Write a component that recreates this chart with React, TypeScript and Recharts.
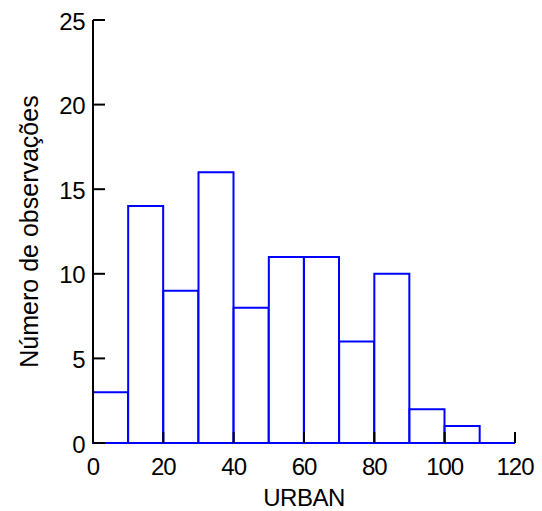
import React from 'react';
import { ComposedChart, Bar, XAxis, YAxis, Label } from 'recharts';

const binCenters = [5, 15, 25, 35, 45, 55, 65, 75, 85, 95, 105, 115];
const counts = [3, 14, 9, 16, 8, 11, 11, 6, 10, 2, 1, 0];
const xTicks = [0, 20, 40, 60, 80, 100, 120];
const yTicks = [0, 5, 10, 15, 20, 25];

const data = binCenters.map((x, i) => ({ x, n: counts[i] }));

const FONT = 'Arial, "Liberation Sans", sans-serif';
const FS = 24;

const XTick = (props: any) => {
  const { x, y, payload } = props;
  return (
    <g>
      <line x1={x} y1={y} x2={x} y2={y - 11} stroke="#000" strokeWidth={2} />
      <text x={x} y={y + 23} textAnchor="middle" dominantBaseline="central" fontFamily={FONT} fontSize={FS} letterSpacing={-1} fill="#000">
        {payload.value}
      </text>
    </g>
  );
};

const YTick = (props: any) => {
  const { x, y, payload } = props;
  return (
    <g>
      <line x1={x} y1={y} x2={x + 12} y2={y} stroke="#000" strokeWidth={2} />
      <text x={x - 8} y={y + 1} textAnchor="end" dominantBaseline="central" fontFamily={FONT} fontSize={FS} letterSpacing={-0.5} fill="#000">
        {payload.value}
      </text>
    </g>
  );
};

export default function App() {
  return (
    <div style={{ position: 'absolute', left: 0, top: 0, width: 542, height: 511, background: '#fff' }}>
      <ComposedChart width={542} height={511} data={data} margin={{ top: 20, right: 27, left: 0, bottom: 0 }} barCategoryGap={0} barGap={0}>
        <XAxis
          dataKey="x"
          type="number"
          domain={[0, 120]}
          ticks={xTicks}
          height={68}
          tickSize={0}
          tickMargin={0}
          tickLine={false}
          axisLine={{ stroke: '#0000FF', strokeWidth: 2 }}
          tick={<XTick />}
          interval={0}
        >
          <Label
            content={(p: any) => {
              const vb = p.viewBox;
              return (
                <text x={vb.x + vb.width / 2} y={vb.y + 54} textAnchor="middle" dominantBaseline="central" fontFamily={FONT} fontSize={FS} letterSpacing={-0.5} fill="#000">
                  URBAN
                </text>
              );
            }}
          />
        </XAxis>
        <YAxis
          type="number"
          domain={[0, 25]}
          ticks={yTicks}
          width={93}
          tickSize={0}
          tickMargin={0}
          tickLine={false}
          axisLine={{ stroke: '#000', strokeWidth: 2 }}
          tick={<YTick />}
          interval={0}
        >
          <Label
            content={(p: any) => {
              const vb = p.viewBox;
              const cx = 29;
              const cy = vb.y + vb.height / 2;
              return (
                <text x={cx} y={cy} transform={`rotate(-90 ${cx} ${cy})`} textAnchor="middle" dominantBaseline="central" fontFamily={FONT} fontSize={25} fill="#000">
                  Número de observações
                </text>
              );
            }}
          />
        </YAxis>
        <Bar dataKey="n" fill="#fff" stroke="#0000FF" strokeWidth={2} isAnimationActive={false} />
      </ComposedChart>
    </div>
  );
}
